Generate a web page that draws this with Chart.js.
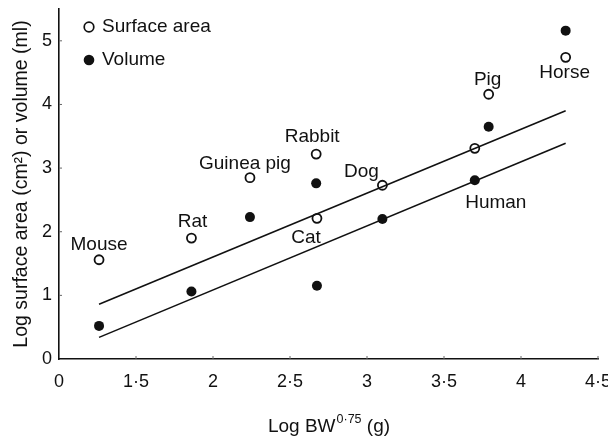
<!DOCTYPE html>
<html>
<head>
<meta charset="utf-8">
<script src="https://cdn.jsdelivr.net/npm/chart.js@4.4.1/dist/chart.umd.min.js"></script>
<style>
    html, body { margin: 0; padding: 0; background: #fff; }
    #wrap { width: 608px; height: 437px; }
</style>
</head>
<body>
<div id="wrap"><canvas id="chart"></canvas></div>
<script>
// Values
const animals = ['Mouse', 'Rat', 'Guinea pig', 'Rabbit', 'Cat', 'Dog', 'Human', 'Pig', 'Horse'];
const logBW = [1.26, 1.86, 2.24, 2.67, 2.675, 3.10, 3.70, 3.79, 4.29];
const surfaceArea = [1.56, 1.90, 2.85, 3.22, 2.21, 2.73, 3.31, 4.16, 4.74];
const volume = [0.52, 1.06, 2.23, 2.76, 1.15, 2.20, 2.81, 3.65, 5.16];

// Regression lines (end points)
const fitX = [1.26, 4.29];
const fitSurface = [0.86, 3.90];
const fitVolume = [0.34, 3.39];

const xTicks = [1, 1.5, 2, 2.5, 3, 3.5, 4, 4.5];
const yTicks = [0, 1, 2, 3, 4, 5];

const FONT = "'Liberation Sans', Arial, Helvetica, sans-serif";
const INK = '#111';

function toPoints(xs, ys) {
    return xs.map((x, i) => ({ x: x, y: ys[i] }));
}

// label placement next to the marker: [dx, dy, which series]
const labelPlace = [
    [0, -15, 'sa'], [1, -16, 'sa'], [-5, -14, 'sa'], [-4, -17, 'sa'], [-11, 19, 'sa'],
    [-21, -14, 'sa'], [21, 23, 'vol'], [-1, -15, 'sa'], [-1, 15, 'sa']
];

const annotatePlugin = {
    id: 'annotate',
    afterDraw(chart) {
        const ctx = chart.ctx;
        const xs = chart.scales.x, ys = chart.scales.y;
        const area = chart.chartArea;
        ctx.save();

        // small inward tick marks
        ctx.strokeStyle = '#666';
        ctx.lineWidth = 1;
        xTicks.slice(1).forEach(v => {
            const px = xs.getPixelForValue(v);
            ctx.beginPath(); ctx.moveTo(px, area.bottom); ctx.lineTo(px, area.bottom - 3); ctx.stroke();
        });
        yTicks.slice(1).forEach(v => {
            const py = ys.getPixelForValue(v);
            ctx.beginPath(); ctx.moveTo(area.left, py); ctx.lineTo(area.left + 3, py); ctx.stroke();
        });

        // animal names
        ctx.fillStyle = INK;
        ctx.font = '19px ' + FONT;
        ctx.textAlign = 'center';
        ctx.textBaseline = 'middle';
        animals.forEach((name, i) => {
            const p = labelPlace[i];
            const yv = p[2] === 'vol' ? volume[i] : surfaceArea[i];
            ctx.fillText(name, xs.getPixelForValue(logBW[i]) + p[0], ys.getPixelForValue(yv) + p[1]);
        });

        // legend
        const lx = area.left + 30, ly1 = area.top + 18, ly2 = area.top + 51;
        ctx.lineWidth = 1.7;
        ctx.strokeStyle = INK;
        ctx.fillStyle = '#fff';
        ctx.beginPath(); ctx.arc(lx, ly1, 4.8, 0, Math.PI * 2); ctx.fill(); ctx.stroke();
        ctx.fillStyle = INK;
        ctx.beginPath(); ctx.arc(lx, ly2, 5.3, 0, Math.PI * 2); ctx.fill();
        ctx.textAlign = 'left';
        ctx.fillText('Surface area', lx + 13, ly1);
        ctx.fillText('Volume', lx + 13, ly2);

        // x axis title with superscript
        const big = '19px ' + FONT, small = '12.5px ' + FONT;
        ctx.font = big; const w1 = ctx.measureText('Log BW').width;
        const w3 = ctx.measureText(' (g)').width;
        ctx.font = small; const w2 = ctx.measureText('0·75').width;
        let tx = (area.left + area.right) / 2 - (w1 + w2 + w3) / 2;
        const ty = 427;
        ctx.font = big; ctx.fillText('Log BW', tx, ty); tx += w1 + 1;
        ctx.font = small; ctx.fillText('0·75', tx, ty - 7); tx += w2;
        ctx.font = big; ctx.fillText(' (g)', tx, ty);
        ctx.restore();
    }
};

const ctx = document.getElementById('chart').getContext('2d');
new Chart(ctx, {
    type: 'scatter',
    data: {
        datasets: [
            {
                label: 'Surface area fit',
                data: toPoints(fitX, fitSurface),
                showLine: true, borderColor: INK, borderWidth: 1.6, pointRadius: 0
            },
            {
                label: 'Volume fit',
                data: toPoints(fitX, fitVolume),
                showLine: true, borderColor: INK, borderWidth: 1.6, pointRadius: 0
            },
            {
                label: 'Surface area',
                data: toPoints(logBW, surfaceArea),
                pointRadius: 4.5, pointBorderWidth: 1.8,
                pointBackgroundColor: '#fff', pointBorderColor: INK
            },
            {
                label: 'Volume',
                data: toPoints(logBW, volume),
                pointRadius: 5, pointBorderWidth: 0,
                pointBackgroundColor: INK, pointBorderColor: INK
            }
        ]
    },
    options: {
        responsive: true,
        maintainAspectRatio: false,
        animation: false,
        layout: { padding: { top: 9, right: 10, left: 0, bottom: 0 } },
        plugins: { legend: { display: false }, tooltip: { enabled: false } },
        scales: {
            x: {
                type: 'linear', min: 1, max: 4.5,
                grid: { display: false, drawTicks: false },
                border: { display: true, color: INK, width: 1.6 },
                ticks: {
                    stepSize: 0.5, padding: 12, color: INK,
                    font: { family: FONT, size: 18 },
                    maxRotation: 0, autoSkip: false,
                    callback: v => v === 1 ? '0' : String(v).replace('.', '·')
                },
                afterFit: s => { s.height = 78; s.paddingLeft = 0; s.paddingRight = 0; }
            },
            y: {
                min: 0, max: 5.5,
                grid: { display: false, drawTicks: false },
                border: { display: true, color: INK, width: 1.6 },
                ticks: {
                    stepSize: 1, padding: 7, color: INK, includeBounds: false,
                    font: { family: FONT, size: 18 }
                },
                title: {
                    display: true, text: 'Log surface area (cm²) or volume (ml)',
                    color: INK, font: { family: FONT, size: 19.5 }, padding: { top: 10, bottom: 0 }
                },
                afterFit: s => { s.width = 59; s.paddingTop = 0; s.paddingBottom = 0; }
            }
        }
    },
    plugins: [annotatePlugin]
});
</script>
</body>
</html>
